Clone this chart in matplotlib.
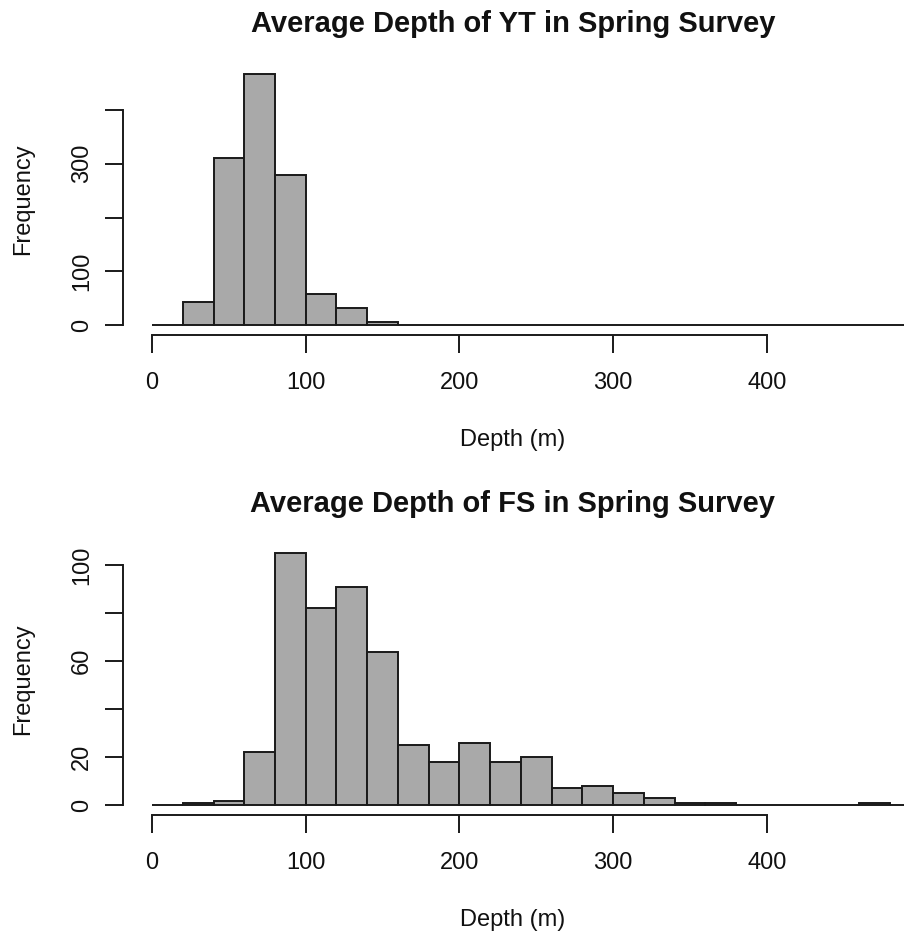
import numpy as np
import matplotlib
matplotlib.use("Agg")
import matplotlib.pyplot as plt

# histogram bins (20 m wide, 0-500 m)
bin_left = list(range(0, 500, 20))

# counts per bin
yt_counts = [0, 44, 311, 467, 278, 58, 33, 6,
             0, 0, 0, 0, 0, 0, 0, 0, 0, 0, 0, 0, 0, 0, 0, 0, 0]
fs_counts = [0, 1, 2, 22, 105, 82, 91, 64, 25, 18, 26, 18, 20, 7, 8, 5,
             3, 1, 1, 0, 0, 0, 0, 1, 0]

titles = ["Average Depth of YT in Spring Survey",
          "Average Depth of FS in Spring Survey"]
y_ticks = [[0, 100, 200, 300, 400], [0, 20, 40, 60, 80, 100]]
y_tick_labels = [["0", "100", "", "300", ""], ["0", "20", "", "60", "", "100"]]
x_ticks = [0, 100, 200, 300, 400]

plt.rcParams['font.family'] = ['Liberation Sans', 'DejaVu Sans']

W, H = 911, 934
fig = plt.figure(figsize=(W / 100, H / 100), dpi=100)

# axes boxes in pixels: (left, top, right, bottom)
boxes = [(123.1, 63.5, 903.5, 335.4), (123.1, 543.0, 903.5, 815.4)]
label_y = [440, 920]
title_y = [24, 504]

for i, counts in enumerate([yt_counts, fs_counts]):
    l, t, r, b = boxes[i]
    ax = fig.add_axes([l / W, 1 - b / H, (r - l) / W, (b - t) / H])
    ax.bar(bin_left, counts, width=20, align='edge', color='#a9a9a9',
           edgecolor='#1a1a1a', linewidth=1.4)
    ymax = max(counts)
    ax.set_xlim(-0.04 * 470, 470 * 1.04)
    ax.set_ylim(-0.04 * ymax, ymax * 1.04)

    for side in ['top', 'right']:
        ax.spines[side].set_visible(False)
    ax.spines['left'].set_bounds(y_ticks[i][0], y_ticks[i][-1])
    ax.spines['bottom'].set_bounds(x_ticks[0], x_ticks[-1])
    for side in ['left', 'bottom']:
        ax.spines[side].set_linewidth(1.4)
        ax.spines[side].set_color('#1a1a1a')

    ax.set_xticks(x_ticks)
    ax.set_xticklabels([str(v) for v in x_ticks])
    ax.set_yticks(y_ticks[i])
    ax.set_yticklabels(y_tick_labels[i], rotation=90, va='center')
    ax.tick_params(axis='both', length=13, width=1.4, color='#1a1a1a',
                   labelsize=17, labelcolor='#111111')
    ax.tick_params(axis='x', pad=13)
    ax.tick_params(axis='y', pad=8.5)

    fig.text(513 / W, 1 - title_y[i] / H, titles[i], ha='center', va='center',
             fontsize=21, fontweight='bold', color='#111111')
    fig.text(513 / W, 1 - label_y[i] / H, "Depth (m)", ha='center',
             va='center', fontsize=17, color='#111111')
    fig.text(23 / W, 1 - (t + b) / 2 / H, "Frequency", ha='center',
             va='center', rotation=90, fontsize=17, color='#111111')

fig.savefig("out.png", dpi=100)
